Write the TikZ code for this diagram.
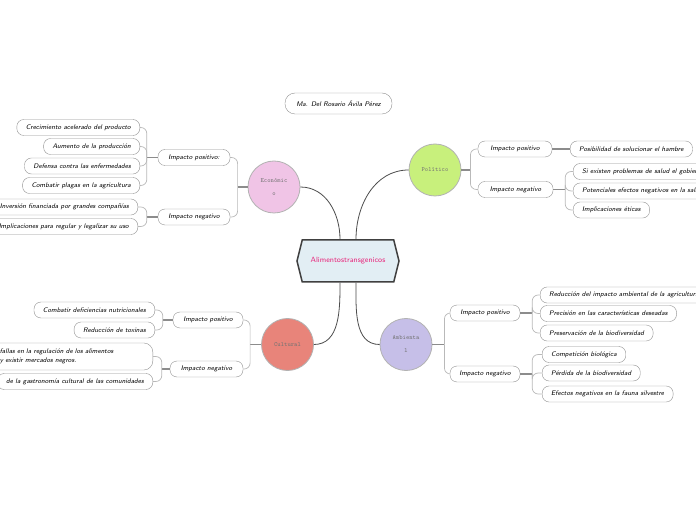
\documentclass[tikz,border=0pt]{standalone}
\usepackage{tikz}
\usetikzlibrary{arrows.meta, positioning, shapes.geometric, shapes.symbols, calc}
\definecolor{ecocol}{HTML}{F0C4E6}
\definecolor{polcol}{HTML}{C8F07C}
\definecolor{culcol}{HTML}{E8847A}
\definecolor{ambcol}{HTML}{C6BFE8}
\definecolor{hexcol}{HTML}{E2EEF4}
\definecolor{rosa}{HTML}{E8247A}
\begin{document}
\begin{tikzpicture}[x=1pt, y=1pt,
  leaf/.style={draw=gray!85, rounded corners=7pt, fill=white, minimum height=16pt, inner xsep=9pt, inner ysep=2pt, font=\sffamily\itshape\fontsize{6.7}{9}\selectfont},
  impacto/.style={leaf, minimum width=72pt},
  tema/.style={circle, draw=gray!60, line width=0.8pt, minimum size=52pt, inner sep=0pt, font=\ttfamily\fontsize{6.3}{13}\selectfont, text=black!55, align=center},
  rama/.style={draw=black!70, line width=0.8pt},
  tallo/.style={draw=black!45, line width=1.3pt},
  twig/.style={draw=gray!55, line width=0.7pt, rounded corners=6pt}]
  \fill[white] (0,0) rectangle (696,520);
  \useasboundingbox (0,0) rectangle (696,520);

  \node[leaf, minimum width=107pt, minimum height=21pt, rounded corners=10pt] (autor) at (338.5,416.5) {Ma. Del Rosario Ávila Pérez};
  \node[signal, signal to=west and east, signal pointer angle=152, draw=black!75, line width=1.5pt, fill=hexcol, minimum width=102pt, minimum height=42pt, text=rosa, font=\sffamily\fontsize{7.6}{9}\selectfont] (ali) at (348,259) {Alimentostransgenicos};

  \node[tema, fill=ecocol] (eco) at (274,333) {Económic\\o};
  \node[tema, fill=polcol] (pol) at (435,350) {Político};
  \node[tema, fill=culcol] (cul) at (287.5,175.5) {Cultural};
  \node[tema, fill=ambcol] (amb) at (406,175.5) {Ambienta\\l};

  \draw[rama] ([xshift=-8pt]ali.north) to[out=90, in=0] (eco.east);
  \draw[rama] ([xshift=8pt]ali.north) to[out=90, in=180] (pol.west);
  \draw[rama] ([xshift=-8pt]ali.south) to[out=-90, in=0] (cul.east);
  \draw[rama] ([xshift=8pt]ali.south) to[out=-90, in=180] (amb.west);

  % Economico
  \node[impacto] (ecop) at (194,362.5) {Impacto positivo:};
  \node[impacto] (econ) at (194,303) {Impacto negativo};
  \node[leaf, anchor=east] (eco1) at (140,392.5) {Crecimiento acelerado del producto};
  \node[leaf, anchor=east] (eco2) at (140,373.5) {Aumento de la producción};
  \node[leaf, anchor=east] (eco3) at (140,354) {Defensa contra las enfermedades};
  \node[leaf, anchor=east] (eco4) at (140,334.5) {Combatir plagas en la agricultura};
  \node[leaf, anchor=east] (eco5) at (138,313) {Inversión financiada por grandes compañías};
  \node[leaf, anchor=east] (eco6) at (138,293.5) {Implicaciones para regular y legalizar su uso};
  \draw[tallo] (eco.west) -- ++(-10,0) coordinate (ecoj);
  \draw[twig] (ecoj) |- (ecop.east);
  \draw[twig] (ecoj) |- (econ.east);
  \draw[tallo] (ecop.west) -- ++(-11,0) coordinate (ecopj);
  \foreach \n in {1,...,4} \draw[twig] (ecopj) |- (eco\n.east);
  \draw[tallo] (econ.west) -- ++(-11,0) coordinate (econj);
  \foreach \n in {5,6} \draw[twig] (econj) |- (eco\n.east);

  % Politico
  \node[impacto, minimum width=74pt] (polp) at (515,371) {Impacto positivo};
  \node[impacto, minimum width=75pt] (poln) at (515.5,330.5) {Impacto negativo};
  \node[leaf, anchor=west] (pol1) at (570,371) {Posibilidad de solucionar el hambre};
  \node[leaf, anchor=west] (pol2) at (573,348.5) {Si existen problemas de salud el gobierno};
  \node[leaf, anchor=west] (pol3) at (573,329) {Potenciales efectos negativos en la salud};
  \node[leaf, anchor=west] (pol4) at (573,310) {Implicaciones éticas};
  \draw[tallo] (pol.east) -- ++(9,0) coordinate (polj);
  \draw[twig] (polj) |- (polp.west);
  \draw[twig] (polj) |- (poln.west);
  \draw[tallo] (polp.east) -- (pol1.west);
  \draw[tallo] (poln.east) -- ++(12,0) coordinate (polnj);
  \foreach \n in {2,3,4} \draw[twig] (polnj) |- (pol\n.west);

  % Ambiental
  \node[impacto, minimum width=70pt] (ambp) at (485,207) {Impacto positivo};
  \node[impacto, minimum width=70pt] (ambn) at (485,146) {Impacto negativo};
  \node[leaf, anchor=west] (amb1) at (540,225) {Reducción del impacto ambiental de la agricultura};
  \node[leaf, anchor=west] (amb2) at (540,206.5) {Precisión en las características deseadas};
  \node[leaf, anchor=west] (amb3) at (540,187) {Preservación de la biodiversidad};
  \node[leaf, anchor=west] (amb4) at (542,165.5) {Competición biológica};
  \node[leaf, anchor=west] (amb5) at (542,147) {Pérdida de la biodiversidad};
  \node[leaf, anchor=west] (amb6) at (542,126) {Efectos negativos en la fauna silvestre};
  \draw[tallo] (amb.east) -- ++(12,0) coordinate (ambj);
  \draw[twig] (ambj) |- (ambp.west);
  \draw[twig] (ambj) |- (ambn.west);
  \draw[tallo] (ambp.east) -- ++(12,0) coordinate (ambpj);
  \foreach \n in {1,2,3} \draw[twig] (ambpj) |- (amb\n.west);
  \draw[tallo] (ambn.east) -- ++(12,0) coordinate (ambnj);
  \foreach \n in {4,5,6} \draw[twig] (ambnj) |- (amb\n.west);

  % Cultural
  \node[impacto, minimum width=70pt] (culp) at (208,200) {Impacto positivo};
  \node[impacto, minimum width=73pt] (culn) at (206.5,151) {Impacto negativo};
  \node[leaf, anchor=east] (cul1) at (155,210) {Combatir deficiencias nutricionales};
  \node[leaf, anchor=east] (cul2) at (155,190) {Reducción de toxinas};
  \node[leaf, anchor=east, text width=144pt, align=left, minimum height=27pt, rounded corners=9pt] (cul3) at (153,163.5) {fallas en la regulación de los alimentos\\y existir mercados negros.};
  \node[leaf, anchor=east] (cul4) at (153,138.5) {de la gastronomía cultural de las comunidades};
  \draw[tallo] (cul.west) -- ++(-11,0) coordinate (culj);
  \draw[twig] (culj) |- (culp.east);
  \draw[twig] (culj) |- (culn.east);
  \draw[tallo] (culp.west) -- ++(-10,0) coordinate (culpj);
  \foreach \n in {1,2} \draw[twig] (culpj) |- (cul\n.east);
  \draw[tallo] (culn.west) -- ++(-8,0) coordinate (culnj);
  \foreach \n in {3,4} \draw[twig] (culnj) |- (cul\n.east);
\end{tikzpicture}
\end{document}
